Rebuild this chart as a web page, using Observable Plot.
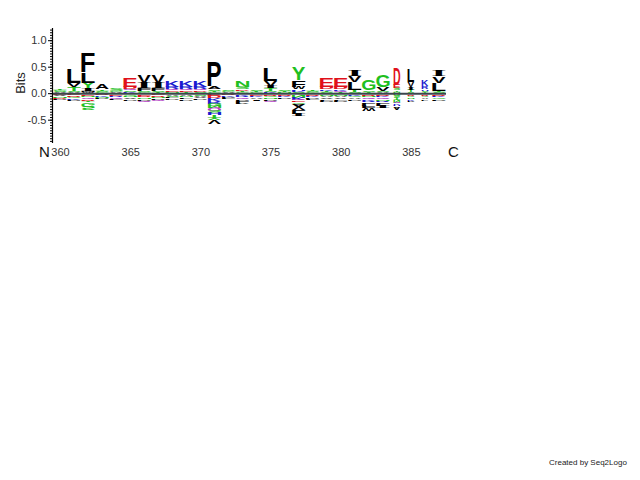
<!DOCTYPE html>
<html><head><meta charset="utf-8">
<script src="https://cdn.jsdelivr.net/npm/d3@7"></script>
<script src="https://cdn.jsdelivr.net/npm/@observablehq/plot@0.6"></script>
<style>
body{margin:0;background:#fff;}
#wrap{position:relative;width:640px;height:480px;overflow:hidden;}
#caption{position:absolute;left:549px;top:458px;font:8px "Liberation Sans",Arial,sans-serif;color:#222;white-space:nowrap;}
</style></head><body><div id="wrap"><div id="caption">Created by Seq2Logo</div></div>
<script>
// ---- data ----
const positions = [360,361,362,363,364,365,366,367,368,369,370,371,372,373,374,375,376,377,378,379,380,381,382,383,384,385,386,387];
const colWeights = [1,1,1,1,1,1,1,1,1,1,1,1,1,1,1,1,1,1,1,1,1,1,1,1,0.5,0.5,0.5,1];
// positive stacks, bottom -> top: [residue, bits]
const posStacks = [
  [["A",0.02],["S",0.02],["G",0.02],["T",0.03]],
  [["A",0.02],["S",0.03],["T",0.06],["V",0.08],["L",0.26]],
  [["W",0.02],["M",0.03],["I",0.04],["Y",0.11],["L",0.19],["F",0.37]],
  [["G",0.02],["S",0.03],["T",0.03],["A",0.09]],
  [["A",0.02],["G",0.02],["S",0.04]],
  [["K",0.02],["S",0.03],["Q",0.03],["D",0.04],["E",0.17]],
  [["G",0.02],["S",0.03],["F",0.04],["I",0.10],["V",0.15]],
  [["T",0.02],["S",0.03],["F",0.04],["I",0.10],["V",0.15]],
  [["N",0.02],["E",0.03],["Q",0.03],["R",0.04],["K",0.13]],
  [["T",0.02],["E",0.03],["Q",0.03],["R",0.04],["K",0.13]],
  [["S",0.02],["D",0.03],["Q",0.03],["R",0.04],["K",0.13]],
  [["G",0.02],["T",0.03],["S",0.03],["A",0.04],["P",0.47]],
  [["A",0.02],["G",0.02],["S",0.03]],
  [["G",0.02],["T",0.03],["D",0.03],["S",0.04],["N",0.13]],
  [["G",0.02],["T",0.02],["S",0.03]],
  [["K",0.02],["S",0.03],["T",0.04],["I",0.04],["V",0.10],["L",0.25]],
  [["N",0.02],["T",0.03],["S",0.03]],
  [["S",0.02],["K",0.03],["H",0.03],["W",0.04],["F",0.13],["Y",0.24]],
  [["G",0.02],["S",0.03],["T",0.03]],
  [["S",0.02],["T",0.03],["K",0.03],["D",0.04],["E",0.17]],
  [["T",0.02],["Q",0.03],["K",0.03],["D",0.04],["E",0.17]],
  [["S",0.02],["T",0.04],["L",0.15],["V",0.12],["I",0.11]],
  [["T",0.02],["S",0.03],["G",0.20]],
  [["A",0.02],["S",0.03],["V",0.07],["G",0.22]],
  [["N",0.03],["T",0.03],["S",0.04],["E",0.06],["D",0.32]],
  [["S",0.02],["T",0.04],["I",0.05],["V",0.10],["L",0.23]],
  [["T",0.02],["S",0.03],["H",0.03],["R",0.05],["K",0.12]],
  [["S",0.02],["T",0.03],["L",0.15],["V",0.13],["I",0.11]]
];
// negative stacks, from zero downwards: [residue, bits below zero]
const negStacks = [
  [["K",0.02],["E",0.02],["V",0.03],["N",0.02],["D",0.02],["P",0.02]],
  [["Q",0.02],["E",0.03],["D",0.03],["G",0.03],["K",0.02],["P",0.03]],
  [["K",0.03],["E",0.03],["N",0.03],["Q",0.03],["D",0.03],["T",0.03],["G",0.07],["S",0.06]],
  [["E",0.02],["D",0.03],["K",0.02],["N",0.03],["P",0.02]],
  [["D",0.03],["E",0.03],["R",0.02],["Q",0.03],["L",0.03]],
  [["A",0.03],["G",0.03],["N",0.03],["V",0.03],["P",0.03]],
  [["K",0.03],["E",0.03],["D",0.03],["N",0.03],["P",0.02],["Q",0.03]],
  [["K",0.02],["E",0.03],["D",0.03],["N",0.03],["P",0.02],["Q",0.02]],
  [["G",0.03],["A",0.03],["S",0.02],["L",0.03],["P",0.02]],
  [["G",0.03],["A",0.03],["N",0.03],["L",0.03],["P",0.02]],
  [["G",0.03],["S",0.03],["A",0.02],["V",0.03],["P",0.02]],
  [["E",0.04],["D",0.05],["K",0.05],["R",0.04],["G",0.05],["N",0.04],["Q",0.05],["S",0.04],["H",0.05],["T",0.04],["Y",0.05],["V",0.08]],
  [["E",0.02],["D",0.03],["K",0.02],["P",0.03],["L",0.02]],
  [["E",0.03],["K",0.03],["R",0.03],["Q",0.03],["P",0.03],["L",0.04],["V",0.03]],
  [["D",0.03],["E",0.03],["K",0.03],["A",0.03],["I",0.03]],
  [["E",0.03],["D",0.03],["G",0.03],["N",0.03],["P",0.03],["Q",0.03]],
  [["E",0.03],["D",0.03],["K",0.03],["P",0.03]],
  [["D",0.03],["N",0.04],["K",0.04],["Q",0.04],["E",0.03],["G",0.03],["A",0.05],["V",0.05],["L",0.06],["I",0.06]],
  [["E",0.03],["D",0.03],["K",0.03],["P",0.02],["L",0.02]],
  [["G",0.03],["N",0.03],["A",0.03],["V",0.03],["L",0.02],["P",0.02]],
  [["G",0.03],["N",0.03],["A",0.03],["V",0.03],["L",0.02],["P",0.02]],
  [["E",0.03],["K",0.03],["G",0.03],["A",0.03],["P",0.03]],
  [["E",0.03],["D",0.03],["N",0.03],["Q",0.03],["K",0.03],["R",0.03],["L",0.05],["F",0.05],["W",0.05]],
  [["E",0.03],["D",0.03],["K",0.03],["Q",0.03],["N",0.03],["R",0.03],["L",0.05],["I",0.05]],
  [["G",0.04],["S",0.04],["T",0.04],["N",0.04],["Q",0.04],["K",0.03],["H",0.03],["A",0.04]],
  [["E",0.03],["D",0.03],["G",0.03],["N",0.03],["K",0.02],["P",0.02]],
  [["E",0.03],["D",0.03],["G",0.03],["A",0.03],["L",0.03]],
  [["E",0.03],["D",0.03],["K",0.03],["G",0.03],["P",0.02]]
];
const xTicks = [360,365,370,375,380,385];
const yTicks = [-0.5,0.0,0.5,1.0];
const yMinorTicks = [-0.9,-0.85,-0.8,-0.75,-0.7,-0.65,-0.6,-0.55,-0.5,-0.45,-0.4,-0.35,-0.3,-0.25,-0.2,-0.15,-0.1,-0.05,0,0.05,0.1,0.15,0.2,0.25,0.3,0.35,0.4,0.45,0.5,0.55,0.6,0.65,0.7,0.75,0.8,0.85,0.9,0.95,1.0,1.05,1.1,1.15,1.2];
const xDomain = [359.43, 387.5];
const yDomain = [-0.94, 1.23];

// ---- styles ----
const residueColors = {
  A:"#000000",C:"#000000",F:"#000000",I:"#000000",L:"#000000",M:"#000000",P:"#000000",V:"#000000",W:"#000000",
  G:"#1fbf1f",N:"#1fbf1f",S:"#1fbf1f",T:"#1fbf1f",Y:"#1fbf1f",
  Q:"#b23cc4",
  K:"#1a1ad0",R:"#1a1ad0",H:"#1a1ad0",
  D:"#e0101a",E:"#e0101a"
};
const sansFont = '"Liberation Sans", Arial, Helvetica, sans-serif';
const serifFont = '"Liberation Serif", "DejaVu Serif", serif';

// ---- table ----
const letters = [];
positions.forEach((p, i) => {
  let y = 0;
  for (const [aa, h] of posStacks[i]) { letters.push({pos: p, aa, lo: y, hi: y + h, w: colWeights[i], neg: false}); y += h; }
  y = 0;
  for (const [aa, h] of negStacks[i]) { letters.push({pos: p, aa, lo: y - h, hi: y, w: colWeights[i], neg: true}); y -= h; }
});

const chart = Plot.plot({
  width: 640, height: 480,
  marginLeft: 52, marginRight: 194, marginTop: 28, marginBottom: 337,
  style: {fontFamily: sansFont, background: "white", color: "#222"},
  x: {type: "linear", domain: xDomain, label: null},
  y: {domain: yDomain, label: null},
  marks: [
    Plot.text(letters, {x: "pos", y: "lo", text: "aa", fill: d => residueColors[d.aa], fontSize: 100, fontWeight: "bold"}),
    Plot.ruleY([0], {stroke: "#3b464c", strokeWidth: 2}),
    Plot.ruleX([xDomain[0]], {stroke: "#000", strokeWidth: 1.2}),
    Plot.axisY(yMinorTicks, {tickSize: 2, tickFormat: () => "", label: null, stroke: "#000"}),
    Plot.axisY(yTicks, {tickSize: 4, tickPadding: 2, fontSize: 11, tickFormat: d => d.toFixed(1), label: null, stroke: "#000", fill: "#333"}),
    Plot.axisX(xTicks, {tickSize: 0, tickPadding: 5, fontSize: 11, label: null, fill: "#333"}),
    Plot.text(["Bits"], {frameAnchor: "left", textAnchor: "middle", dx: -32, dy: -3, rotate: -90, fontSize: 13, fill: "#222"}),
    Plot.text(["N"], {frameAnchor: "bottom-left", textAnchor: "middle", dx: -8, dy: 13, fontSize: 15, fill: "#111"}),
    Plot.text(["C"], {frameAnchor: "bottom-right", textAnchor: "middle", dx: 7, dy: 13, fontSize: 15, fill: "#111"})
  ]
});
document.getElementById("wrap").insertBefore(chart, document.getElementById("caption"));

// ---- stretch each residue letter into its stack cell using the plot's scales ----
const svg = chart.tagName.toLowerCase() === "svg" ? chart : chart.querySelector("svg");
const sx = chart.scale("x"), sy = chart.scale("y");
const lin = s => s.apply ? (v => s.apply(v)) : (v => s.range[0] + (v - s.domain[0]) / (s.domain[1] - s.domain[0]) * (s.range[1] - s.range[0]));
const fx = lin(sx), fy = lin(sy);
let g = null;
for (const cand of svg.querySelectorAll("g")) {
  const kids = Array.from(cand.children).filter(c => c.tagName.toLowerCase() === "text");
  if (kids.length === letters.length) { g = cand; break; }
}
if (g) {
  const texts = Array.from(g.children).filter(c => c.tagName.toLowerCase() === "text");
  const toLocal = svg.getScreenCTM().inverse().multiply(g.getScreenCTM());
  const offX = toLocal.e, offY = toLocal.f;
  const ctx = document.createElement("canvas").getContext("2d");
  texts.forEach((t, i) => {
    const d = letters[i];
    const fam = d.aa === "I" ? serifFont : sansFont;
    ctx.font = `bold 100px ${fam}`;
    const m = ctx.measureText(d.aa);
    const L = -m.actualBoundingBoxLeft, R = m.actualBoundingBoxRight;
    const T = -m.actualBoundingBoxAscent, B = m.actualBoundingBoxDescent;
    const colW = fx(d.pos + 0.5) - fx(d.pos - 0.5);
    const w = colW * d.w * 0.95;
    const px0 = fx(d.pos) - w / 2, px1 = fx(d.pos) + w / 2;
    const py0 = fy(d.hi), py1 = fy(d.lo);
    const a = (px1 - px0) / (R - L);
    const e = px0 - L * a;
    let dsy, f;
    if (!d.neg) { dsy = (py1 - py0) / (B - T); f = py0 - T * dsy; }
    else { dsy = -(py1 - py0) / (B - T); f = py1 - T * dsy; }
    t.removeAttribute("x"); t.removeAttribute("y"); t.removeAttribute("dy"); t.removeAttribute("dx");
    t.querySelectorAll("tspan").forEach(s => { s.removeAttribute("x"); s.removeAttribute("y"); s.removeAttribute("dy"); });
    t.setAttribute("text-anchor", "start");
    t.style.fontFamily = fam; t.style.fontWeight = "bold"; t.style.fontSize = "100px";
    t.setAttribute("transform", `matrix(${a},0,0,${dsy},${e - offX},${f - offY})`);
  });
}
</script>
</body></html>
